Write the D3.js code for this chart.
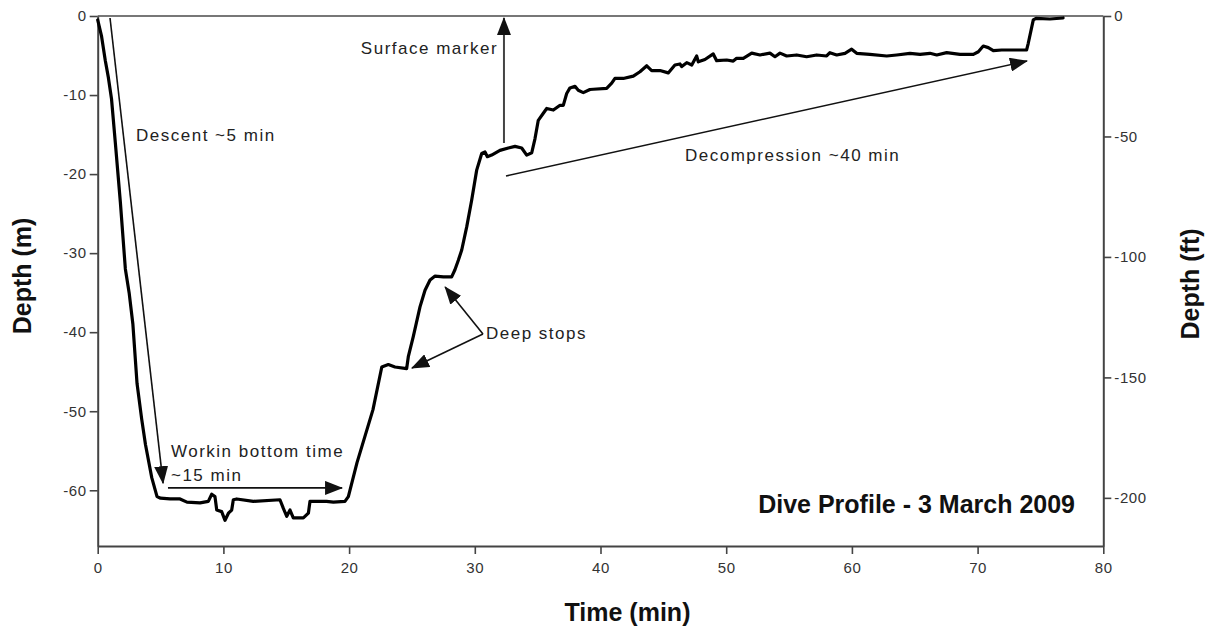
<!DOCTYPE html>
<html>
<head>
<meta charset="utf-8">
<script src="https://cdn.jsdelivr.net/npm/d3@7"></script>
<style>
  html, body { margin: 0; padding: 0; background: #fff; }
  svg { display: block; font-family: "Liberation Sans", Arial, sans-serif; }
</style>
</head>
<body>
<svg id="chart" width="1208" height="626"></svg>
<script>
// ---- data (time in minutes, depth in metres) ----
const timeDescent = [0, 0.3, 0.6, 0.85, 1.1, 1.4, 1.8, 2.2, 2.5, 2.8, 3.13, 3.5, 3.8, 4.3, 4.72, 5.0];
const depthDescent = [-0.5, -2.5, -5.6, -7.8, -10.5, -16, -23.5, -32, -35, -39, -46.5, -51, -54.2, -58.4, -60.8, -61.0];

const timeBottom = [5.75, 6.55, 7.1, 8.14, 8.8, 9.07, 9.33, 9.47, 9.86, 10.13, 10.4, 10.66, 10.79, 11.06, 12.38, 14.5, 14.77, 15.04, 15.3, 15.56, 16.36, 16.76, 16.89, 18.2, 18.75, 19.67, 19.94];
const depthBottom = [-61.1, -61.1, -61.5, -61.6, -61.4, -60.5, -60.8, -62.5, -62.7, -63.8, -62.9, -62.5, -61.2, -61.1, -61.4, -61.2, -62.3, -63.3, -62.5, -63.5, -63.5, -62.9, -61.4, -61.4, -61.5, -61.4, -60.8];

const timeAscent = [20.63, 21.9, 22.6, 23.12, 23.65, 24.58, 24.71, 25.1, 25.64, 26.04, 26.44, 26.84, 27.5, 28.16, 28.42, 28.69, 28.96, 29.36, 29.75, 30.15, 30.55, 30.81, 31.0, 31.34, 32.0, 32.67, 33.2, 33.73, 34.13, 34.53, 34.79, 35.05, 35.45, 35.72, 36.25, 36.78, 37.04, 37.31, 37.57, 37.97, 38.23, 38.63, 39.16];
const depthAscent = [-56.5, -49.8, -44.4, -44.1, -44.4, -44.6, -43.1, -40.6, -36.8, -34.7, -33.4, -32.9, -33.0, -33.0, -32.1, -30.9, -29.6, -26.65, -23.3, -19.5, -17.4, -17.2, -17.8, -17.6, -17.0, -16.7, -16.5, -16.7, -17.6, -17.3, -15.5, -13.2, -12.3, -11.7, -11.9, -11.3, -11.3, -9.8, -9.1, -8.9, -9.4, -9.7, -9.3];

const timeDeco = [39.43, 40.49, 40.89, 41.15, 41.81, 42.61, 43.14, 43.68, 44.07, 44.73, 45.39, 45.92, 46.32, 46.46, 46.86, 47.26, 47.65, 47.78, 48.31, 48.97, 49.24, 50.04, 50.56, 50.83, 51.36, 52.03, 52.69, 53.48, 53.88, 54.28, 54.81, 55.61, 56.4, 57.2, 57.99, 58.25, 58.79, 59.45, 59.98, 60.38, 61.43, 62.77, 63.56, 64.62, 65.42, 66.21, 66.75, 67.54, 68.6, 69.66, 70.06, 70.45, 70.85, 71.25, 71.92, 73.9, 74.03, 74.43, 74.65, 75.75, 76.8];
const depthDeco = [-9.27, -9.15, -8.5, -7.9, -7.9, -7.6, -7.05, -6.3, -6.9, -6.9, -7.2, -6.2, -6.07, -6.4, -5.9, -6.2, -5.06, -5.8, -5.5, -4.8, -5.65, -5.57, -5.7, -5.35, -5.35, -4.7, -4.93, -4.7, -5.15, -4.7, -5.06, -4.93, -5.15, -4.93, -5.06, -4.64, -4.93, -4.72, -4.2, -4.72, -4.85, -5.06, -4.93, -4.72, -4.85, -4.72, -4.93, -4.64, -4.85, -4.85, -4.52, -3.8, -4.0, -4.39, -4.3, -4.3, -3.45, -0.5, -0.3, -0.38, -0.25];

const xTicks = [0, 10, 20, 30, 40, 50, 60, 70, 80];
const yTicksM = [0, -10, -20, -30, -40, -50, -60];
const yTicksFt = [0, -50, -100, -150, -200];

const xTitle = "Time (min)";
const yTitleLeft = "Depth (m)";
const yTitleRight = "Depth (ft)";
const chartTitle = "Dive Profile - 3 March 2009";

// annotation texts with anchor positions in data units [time, depth]
const noteTexts = ["Descent ~5 min", "Surface marker", "Decompression ~40 min", "Deep stops", "Workin bottom time", "~15 min"];
const noteAt = [[3.05, -15.8], [31.85, -4.8], [46.72, -18.34], [30.89, -40.86], [5.83, -55.79], [5.83, -58.82]];
const noteAnchor = ["start", "end", "start", "start", "start", "start"];

// arrows: [fromTime, fromDepth, toTime, toDepth] in data units
const arrowFrom = [[0.98, -0.25], [5.59, -59.7], [32.32, -16.07], [32.48, -20.24], [30.65, -40.23], [30.65, -40.23]];
const arrowTo = [[5.2, -59.1], [19.44, -59.7], [32.32, -0.25], [73.93, -5.69], [27.64, -34.28], [25.0, -44.53]];

// ---- chart ----
const svg = d3.select("#chart");
const W = 1208, H = 626;
const m = { left: 97.7, right: 104.7, top: 16, bottom: 80 };
const FT = 0.3048;
const depthMin = -67.05;

const x = d3.scaleLinear().domain([0, 80]).range([m.left, W - m.right]);
const y = d3.scaleLinear().domain([depthMin, 0]).range([H - m.bottom, m.top]);
const yFt = d3.scaleLinear().domain([depthMin / FT, 0]).range([H - m.bottom, m.top]);

const axisColor = "#444";
const textColor = "#333";

// top frame line
svg.append("line")
  .attr("x1", x(0)).attr("x2", x(80))
  .attr("y1", y(0)).attr("y2", y(0))
  .attr("stroke", "#777").attr("stroke-width", 2);

function styleAxis(g) {
  g.select(".domain").attr("stroke", axisColor).attr("stroke-width", 2);
  g.selectAll(".tick line").attr("stroke", axisColor).attr("stroke-width", 1.6);
  g.selectAll(".tick text").attr("fill", textColor)
    .style("font-size", "15px").style("letter-spacing", "0.6px");
}

const gx = svg.append("g")
  .attr("transform", `translate(0,${H - m.bottom})`)
  .call(d3.axisBottom(x).tickValues(xTicks).tickSize(8).tickSizeOuter(0).tickPadding(8).tickFormat(d3.format("d")));
styleAxis(gx);

const gy = svg.append("g")
  .attr("transform", `translate(${m.left},0)`)
  .call(d3.axisLeft(y).tickValues(yTicksM).tickSize(8).tickSizeOuter(0).tickPadding(3).tickFormat(d => d === 0 ? "0" : "-" + Math.abs(d)));
styleAxis(gy);

const gy2 = svg.append("g")
  .attr("transform", `translate(${W - m.right},0)`)
  .call(d3.axisRight(yFt).tickValues(yTicksFt).tickSize(8).tickSizeOuter(0).tickPadding(3).tickFormat(d => d === 0 ? "0" : "-" + Math.abs(d)));
styleAxis(gy2);

// axis titles
svg.append("text")
  .attr("x", (x(0) + x(80)) / 2 + 27).attr("y", 621)
  .attr("text-anchor", "middle")
  .style("font-size", "25px").style("font-weight", "bold").attr("fill", "#111")
  .text(xTitle);

svg.append("text")
  .attr("transform", `translate(31,${(y(0) + y(depthMin)) / 2 - 5}) rotate(-90)`)
  .attr("text-anchor", "middle")
  .style("font-size", "25px").style("font-weight", "bold").attr("fill", "#111")
  .text(yTitleLeft);

svg.append("text")
  .attr("transform", `translate(1199,${(y(0) + y(depthMin)) / 2 + 3}) rotate(-90)`)
  .attr("text-anchor", "middle")
  .style("font-size", "25px").style("font-weight", "bold").attr("fill", "#111")
  .text(yTitleRight);

// chart title inside the plot
svg.append("text")
  .attr("x", 1075).attr("y", 513)
  .attr("text-anchor", "end")
  .style("font-size", "25px").style("font-weight", "bold").attr("fill", "#111")
  .text(chartTitle);

// arrow marker
const defs = svg.append("defs");
defs.append("marker")
  .attr("id", "arrowhead")
  .attr("markerUnits", "userSpaceOnUse")
  .attr("viewBox", "0 0 18 14")
  .attr("refX", 17).attr("refY", 7)
  .attr("markerWidth", 18).attr("markerHeight", 14)
  .attr("orient", "auto")
  .append("path")
  .attr("d", "M0,0 L18,7 L0,14 Z")
  .attr("fill", "#111");

// arrows
svg.append("g").selectAll("line")
  .data(arrowFrom.map((f, i) => ({ f, t: arrowTo[i] })))
  .join("line")
  .attr("x1", d => x(d.f[0])).attr("y1", d => y(d.f[1]))
  .attr("x2", d => x(d.t[0])).attr("y2", d => y(d.t[1]))
  .attr("stroke", (d, i) => i === 2 ? "#444" : "#111")
  .attr("stroke-width", (d, i) => i === 2 ? 2 : 1.6)
  .attr("marker-end", "url(#arrowhead)");

// annotation texts
svg.append("g").selectAll("text")
  .data(noteTexts)
  .join("text")
  .attr("x", (d, i) => x(noteAt[i][0]))
  .attr("y", (d, i) => y(noteAt[i][1]))
  .attr("text-anchor", (d, i) => noteAnchor[i])
  .attr("fill", "#222")
  .style("font-size", "17px")
  .style("letter-spacing", "1.5px")
  .text(d => d);

// dive profile line
const timeAll = [].concat(timeDescent, timeBottom, timeAscent, timeDeco);
const depthAll = [].concat(depthDescent, depthBottom, depthAscent, depthDeco);
const profile = timeAll.map((t, i) => [t, depthAll[i]]);

svg.append("path")
  .datum(profile)
  .attr("fill", "none")
  .attr("stroke", "#000")
  .attr("stroke-width", 3.2)
  .attr("stroke-linejoin", "round")
  .attr("stroke-linecap", "round")
  .attr("d", d3.line().x(d => x(d[0])).y(d => y(d[1])));
</script>
</body>
</html>
